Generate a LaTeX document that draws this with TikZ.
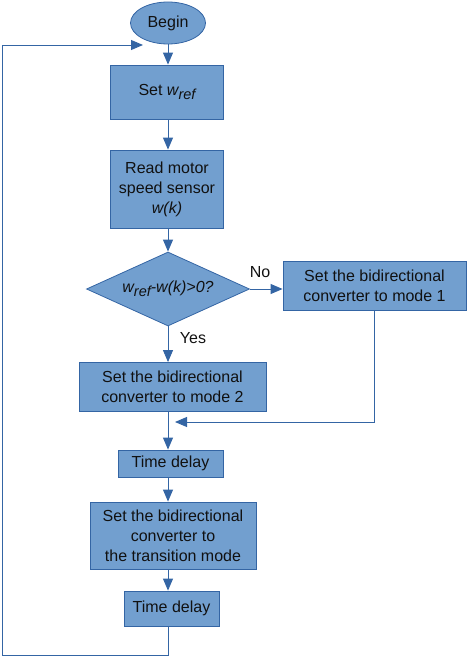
\documentclass[tikz,border=0pt]{standalone}
\usepackage{fontspec}
\setmainfont{Liberation Sans}
\usetikzlibrary{shapes.geometric,arrows.meta}
\definecolor{boxfill}{HTML}{729FCF}
\definecolor{boxline}{HTML}{3465A4}
\definecolor{txt}{HTML}{111111}
\newcommand{\mysub}[1]{\raisebox{-0.45ex}{\fontsize{14.5}{14.5}\selectfont #1}}
\begin{document}
\begin{tikzpicture}[x=1pt,y=-1pt,
  every node/.style={font=\fontsize{16}{20}\selectfont, text=txt},
  procbox/.style={rectangle, draw=boxline, fill=boxfill, line width=0.8pt, align=center, inner sep=0pt},
  arr/.style={draw=boxline, line width=0.9pt, -{Triangle[length=12pt,width=10pt]}},
  ln/.style={draw=boxline, line width=0.9pt}]
\useasboundingbox (0,0) rectangle (474,671);
\node[ellipse, draw=boxline, fill=boxfill, line width=0.8pt, minimum width=75pt, minimum height=42pt, inner sep=0pt] (begin) at (168,23) {Begin};
\node[procbox, minimum width=113pt, minimum height=54pt] (set) at (167,92) {Set \textit{w\mysub{ref}}};
\node[procbox, minimum width=113pt, minimum height=78pt] (read) at (167,189) {Read motor\\speed sensor\\\textit{w(k)}};
\node[diamond, aspect=2.2, draw=boxline, fill=boxfill, line width=0.8pt, minimum width=163pt, minimum height=74pt, inner sep=0pt] (dec) at (168,289) {\textit{w\mysub{ref}-w(k)>0?}};
\node[procbox, minimum width=183pt, minimum height=49pt] (m1) at (374.5,286) {Set the bidirectional\\converter to mode 1};
\node[procbox, minimum width=187pt, minimum height=49pt] (m2) at (172.5,387) {Set the bidirectional\\converter to mode 2};
\node[procbox, minimum width=105pt, minimum height=27pt] (td1) at (170.5,463.5) {Time delay};
\node[procbox, minimum width=166pt, minimum height=67pt] (tr) at (173,535.5) {Set the bidirectional\\converter to\\the transition mode};
\node[procbox, minimum width=95pt, minimum height=35pt] (td2) at (171.5,608.5) {Time delay};
\node (no) at (260,272) {No};
\node (yes) at (193,338) {Yes};
\coordinate (merge) at (175,422);
\coordinate (c1) at (168,655);
\coordinate (c2) at (2,655);
\coordinate (c3) at (2,45);
\coordinate (c4) at (143,45);
\draw[arr] (begin.south) -- (begin.south |- set.north);
\draw[arr] (begin.south |- set.south) -- (begin.south |- read.north);
\draw[arr] (begin.south |- read.south) -- (dec.north);
\draw[arr] (dec.east) -- (m1.west |- dec.east);
\draw[arr] (dec.south) -- (dec.south |- m2.north);
\draw[arr] (dec.south |- m2.south) -- (dec.south |- td1.north);
\draw[arr] (m1.south) |- (merge);
\draw[arr] (dec.south |- td1.south) -- (dec.south |- tr.north);
\draw[arr] (dec.south |- tr.south) -- (dec.south |- td2.north);
\draw[arr] (dec.south |- td2.south) -- (c1) -- (c2) -- (c3) -- (c4);
\end{tikzpicture}
\end{document}
